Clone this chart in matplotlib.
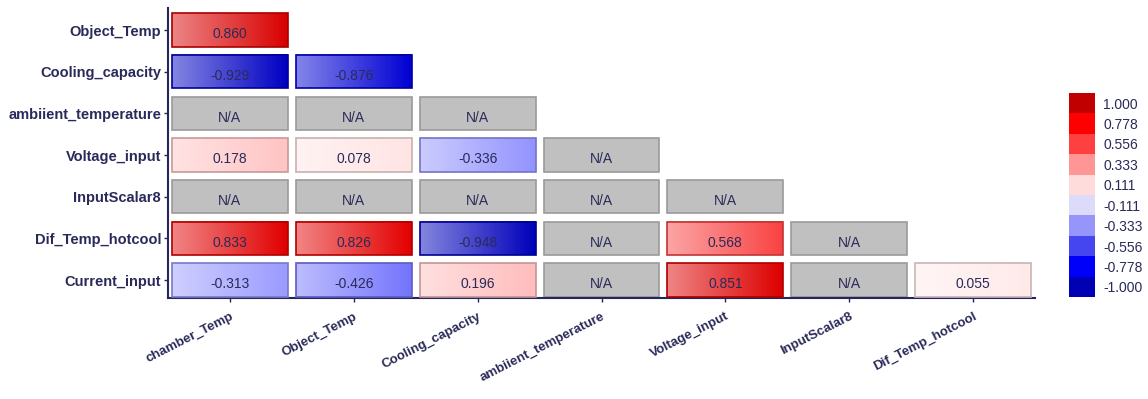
import numpy as np
import matplotlib
matplotlib.use("Agg")
import matplotlib.pyplot as plt
from matplotlib.colors import LinearSegmentedColormap, ListedColormap, BoundaryNorm
from matplotlib.patches import Rectangle

plt.rcParams['font.family'] = ['Liberation Sans', 'DejaVu Sans']

# row labels (top to bottom) and column labels (left to right)
row_labels = ['Object_Temp', 'Cooling_capacity', 'ambiient_temperature', 'Voltage_input',
              'InputScalar8', 'Dif_Temp_hotcool', 'Current_input']
col_labels = ['chamber_Temp', 'Object_Temp', 'Cooling_capacity', 'ambiient_temperature',
              'Voltage_input', 'InputScalar8', 'Dif_Temp_hotcool']

NA = np.nan
row_object = [0.860]
row_cooling = [-0.929, -0.876]
row_ambient = [NA, NA, NA]
row_voltage = [0.178, 0.078, -0.336, NA]
row_scalar = [NA, NA, NA, NA, NA]
row_dif = [0.833, 0.826, -0.948, NA, 0.568, NA]
row_current = [-0.313, -0.426, 0.196, NA, 0.851, NA, 0.055]
rows = [row_object, row_cooling, row_ambient, row_voltage, row_scalar, row_dif, row_current]

# legend levels and their block colours
legend_levels = [1.000, 0.778, 0.556, 0.333, 0.111, -0.111, -0.333, -0.556, -0.778, -1.000]
legend_colors = ['#c00000', '#ff0000', '#ff4040', '#ff9696', '#ffdcdc',
                 '#dcdcfa', '#9696fa', '#4646f0', '#0000fa', '#0000b4']

TXT = '#2a2a5a'
AXC = '#26265e'

# continuous map used for the cell fills
nodes = [(-1.0, (0, 0, 170)), (-0.8, (0, 0, 240)), (-0.556, (70, 70, 250)),
         (-0.333, (150, 150, 255)), (-0.111, (215, 215, 255)), (0.0, (255, 255, 255)),
         (0.111, (255, 215, 215)), (0.333, (255, 150, 150)), (0.556, (250, 70, 70)),
         (0.8, (235, 0, 0)), (1.0, (180, 0, 0))]
cell_cmap = LinearSegmentedColormap.from_list(
    'cells', [((v + 1) / 2, tuple(c / 255 for c in col)) for v, col in nodes])

fig = plt.figure(figsize=(11.48, 3.99), dpi=100)
ax = fig.add_axes([168 / 1148, 1 - 298 / 399, 867 / 1148, 290 / 399])

n = len(row_labels)
cw, ch = 0.935, 0.8
for i, vals in enumerate(rows):
    y = n - 1 - i
    for j, v in enumerate(vals):
        x0, y0 = j - cw / 2, y - ch / 2
        if np.isnan(v):
            ax.add_patch(Rectangle((x0, y0), cw, ch, facecolor='#c0c0c0',
                                   edgecolor='#9a9a9a', linewidth=1.2, zorder=2))
            label = 'N/A'
        else:
            base = np.array(cell_cmap((v + 1) / 2)[:3])
            light = base + (1 - base) * 0.52
            t = np.linspace(0, 1, 64)[:, None]
            grad = light * (1 - t) + base * t
            ax.imshow(grad[None, :, :], extent=(x0, x0 + cw, y0, y0 + ch),
                      aspect='auto', interpolation='bilinear', zorder=2)
            ax.add_patch(Rectangle((x0, y0), cw, ch, facecolor='none',
                                   edgecolor=base * 0.78, linewidth=1.2, zorder=3))
            label = f'{v:.3f}'
        ax.text(j, y - 0.1, label, ha='center', va='center', fontsize=10,
                color=TXT, zorder=4)

ax.set_xlim(-0.5, 6.5)
ax.set_ylim(-0.43, n - 0.47)
ax.set_xticks(range(len(col_labels)))
ax.set_xticklabels(col_labels, rotation=27, ha='right', va='top',
                   rotation_mode='anchor', fontsize=9.5, color=TXT, fontweight='bold')
ax.set_yticks(range(n))
ax.set_yticklabels(row_labels[::-1], fontsize=10.5, color=TXT, fontweight='bold')
ax.tick_params(axis='both', colors=AXC, length=3, width=1)
ax.tick_params(axis='x', pad=6)
ax.tick_params(axis='y', pad=2)
for lbl in ax.get_xticklabels() + ax.get_yticklabels():
    lbl.set_color(TXT)
for s in ['top', 'right']:
    ax.spines[s].set_visible(False)
for s in ['left', 'bottom']:
    ax.spines[s].set_color(AXC)
    ax.spines[s].set_linewidth(1.5)

# discrete legend
cax = fig.add_axes([1069 / 1148, 1 - 297 / 399, 26 / 1148, 204 / 399])
levels_up = legend_levels[::-1]
step = 2 / 9
bounds = np.linspace(-1 - step / 2, 1 + step / 2, 11)
cb = fig.colorbar(plt.cm.ScalarMappable(norm=BoundaryNorm(bounds, 10),
                                        cmap=ListedColormap(legend_colors[::-1])),
                  cax=cax, ticks=levels_up)
cb.ax.minorticks_off()
cb.ax.set_yticklabels([f'{v:.3f}' for v in levels_up], fontsize=10, color=TXT)
cb.ax.tick_params(which='both', length=0, pad=6)
cb.outline.set_visible(False)

fig.savefig('out.png', dpi=100)
